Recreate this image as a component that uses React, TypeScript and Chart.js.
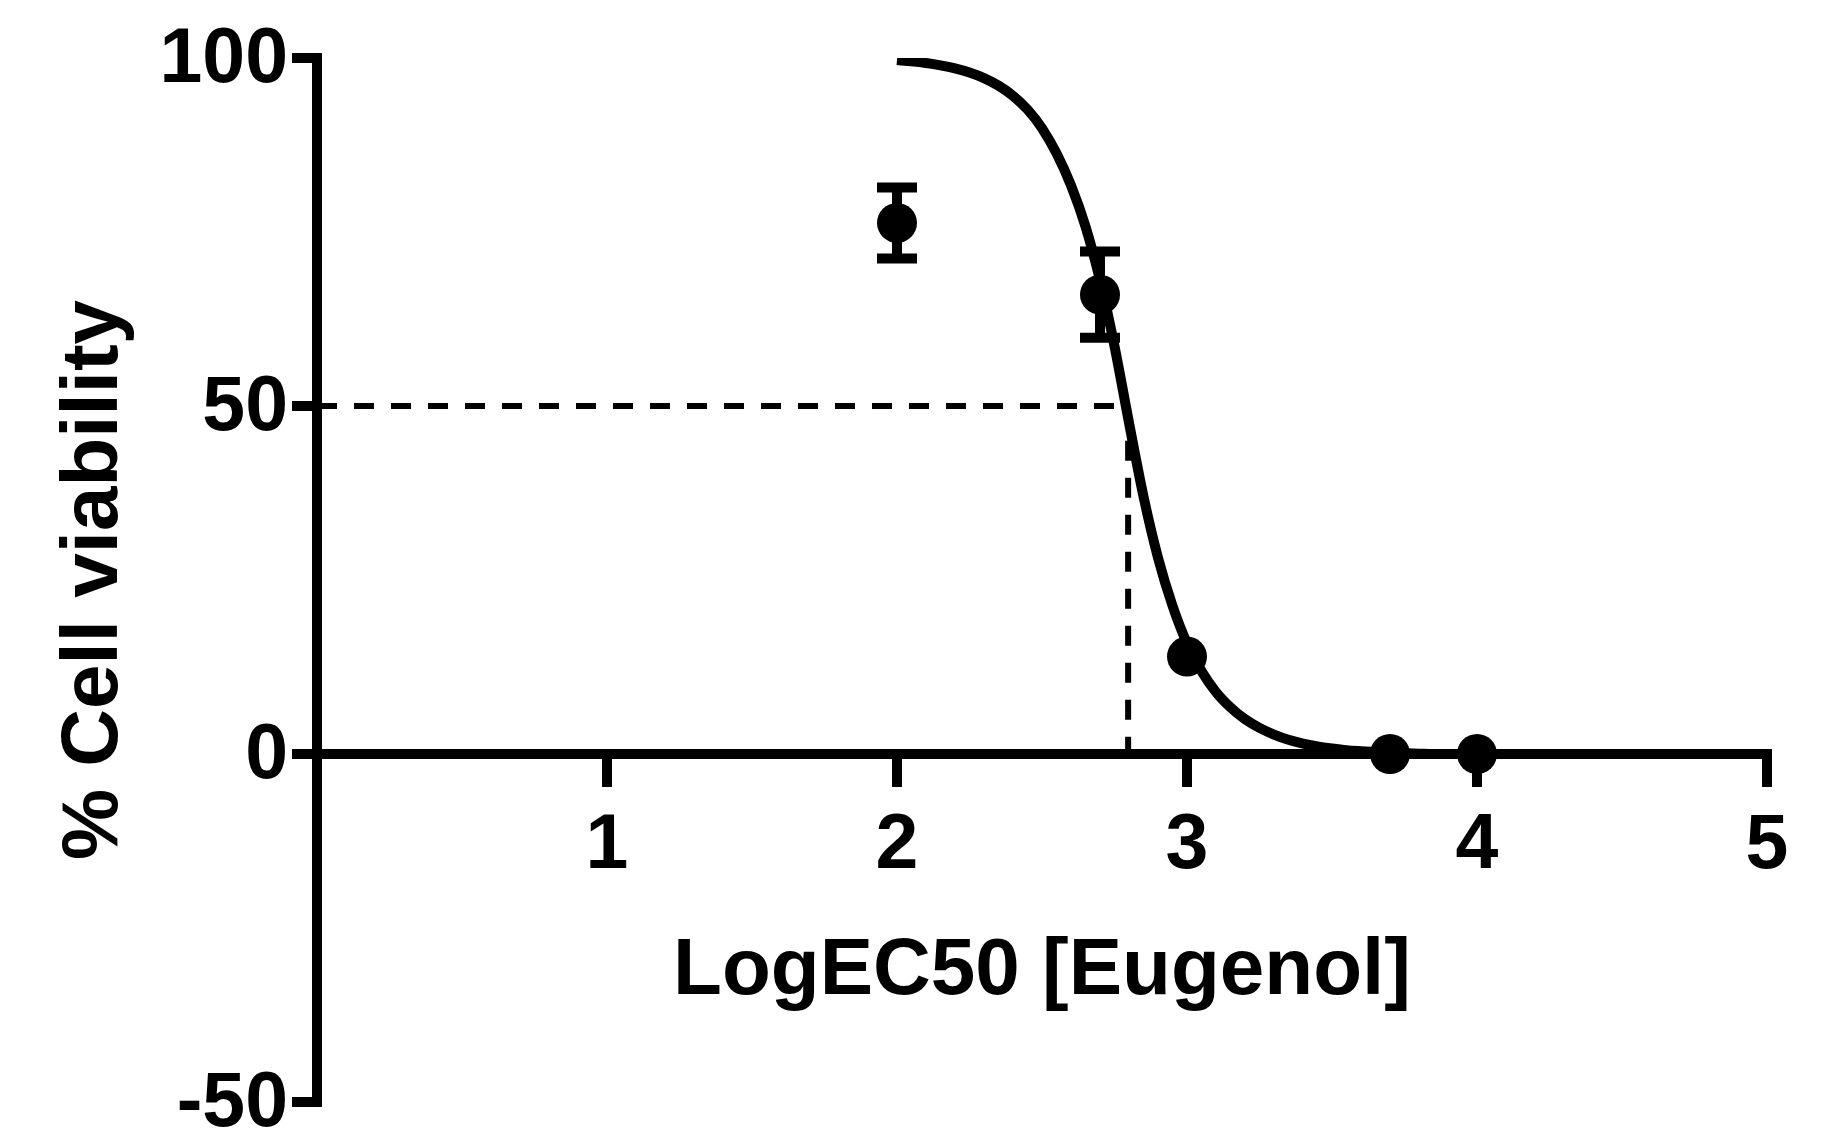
import React, { useEffect, useRef } from 'react';
import { Chart, registerables } from 'chart.js';

Chart.register(...registerables);

// Measured points (log concentration vs % viability, mean ± SEM)
const pointX = [2.0, 2.7, 3.0, 3.7, 4.0];
const pointY = [76.3, 66.0, 14.0, 0.0, 0.0];
const pointErr = [5.1, 6.2, 0, 0, 0];

// Fitted dose-response curve
const curveX = [2.0, 2.05, 2.1, 2.15, 2.2, 2.25, 2.3, 2.35, 2.4, 2.45, 2.5, 2.55, 2.6, 2.65, 2.7, 2.75, 2.8, 2.85, 2.9, 2.95, 3.0, 3.05, 3.1, 3.15, 3.2, 3.25, 3.3, 3.35, 3.4, 3.45, 3.5, 3.55, 3.6, 3.65, 3.7, 3.75, 3.8, 3.85, 4.0, 5.0];
const curveY = [99.7, 99.52, 99.28, 98.95, 98.51, 97.91, 97.11, 96.03, 94.57, 92.6, 89.92, 86.3, 81.7, 75.8, 68.1, 58.6, 47.6, 37.0, 28.2, 21.3, 15.9, 11.9, 8.9, 6.7, 5.0, 3.75, 2.8, 2.05, 1.5, 1.1, 0.8, 0.55, 0.4, 0.28, 0.18, 0.1, 0.05, 0.0, 0.0, 0.0];

// Dashed EC50 guide lines
const guide50X = [0, 2.78];
const guide50Y = [50, 50];
const guideVX = [2.797, 2.797];
const guideVY = [45, 0];
const guide0X = [0, 2.797];
const guide0Y = [0, 0];

// Axes
const xTickValues = [0, 1, 2, 3, 4, 5];
const xTickLabels = ['', '1', '2', '3', '4', '5'];
const yTickValues = [-50, 0, 50, 100];
const yTickLabels = ['-50', '0', '50', '100'];
const xTitle = 'LogEC50 [Eugenol]';
const yTitle = '% Cell viability';

const FAMILY = '"Liberation Sans", Arial, Helvetica, sans-serif';

const toXY = (xs: number[], ys: number[]) => xs.map((x, i) => ({ x, y: ys[i] }));

const errorBarPlugin = {
  id: 'errorBars',
  afterDatasetsDraw(chart: any) {
    const { ctx } = chart;
    const xs = chart.scales.x;
    const ys = chart.scales.y;
    ctx.save();
    ctx.strokeStyle = '#000';
    ctx.lineWidth = 10;
    ctx.lineCap = 'butt';
    pointX.forEach((x, i) => {
      const e = pointErr[i];
      if (!e) return;
      const px = xs.getPixelForValue(x);
      const top = ys.getPixelForValue(pointY[i] + e);
      const bot = ys.getPixelForValue(pointY[i] - e);
      ctx.beginPath();
      ctx.moveTo(px, top);
      ctx.lineTo(px, bot);
      ctx.moveTo(px - 20, top);
      ctx.lineTo(px + 20, top);
      ctx.moveTo(px - 20, bot);
      ctx.lineTo(px + 20, bot);
      ctx.stroke();
    });
    ctx.restore();
  },
};

export default function App() {
  const ref = useRef<HTMLCanvasElement>(null);

  useEffect(() => {
    const tickFont = { family: FAMILY, weight: 'bold' as const, size: 77, lineHeight: 1 };
    const titleFont = { family: FAMILY, weight: 'bold' as const, size: 80, lineHeight: 1.2 };
    const dashed = {
      type: 'line' as const,
      borderColor: '#000',
      borderWidth: 6,
      borderDash: [20, 17],
      pointRadius: 0,
      fill: false,
      tension: 0,
    };
    const chart = new Chart(ref.current as HTMLCanvasElement, {
      type: 'line',
      data: {
        datasets: [
          { ...dashed, data: toXY(guide0X, guide0Y) },
          { ...dashed, data: toXY(guide50X, guide50Y) },
          { ...dashed, data: toXY(guideVX, guideVY) },
          {
            type: 'line',
            data: toXY(curveX, curveY),
            borderColor: '#000',
            borderWidth: 10,
            pointRadius: 0,
            fill: false,
            cubicInterpolationMode: 'monotone',
          },
          {
            type: 'line',
            data: toXY(pointX, pointY),
            showLine: false,
            pointRadius: 20,
            pointHoverRadius: 20,
            pointBackgroundColor: '#000',
            pointBorderWidth: 0,
            borderColor: '#000',
            backgroundColor: '#000',
          },
        ] as any,
      },
      options: {
        responsive: false,
        devicePixelRatio: 1,
        animation: false,
        layout: { padding: { top: 58, right: 61, bottom: 38, left: 0 } },
        plugins: { legend: { display: false }, tooltip: { enabled: false } },
        scales: {
          x: {
            type: 'linear',
            axis: 'x',
            min: 0,
            max: 5,
            position: { y: 0 } as any,
            afterBuildTicks: (s: any) => {
              s.ticks = xTickValues.map((v) => ({ value: v }));
            },
            afterFit: (s: any) => {
              s.height = 266;
              s.paddingLeft = 0;
              s.paddingRight = 0;
              s.paddingTop = 0;
              s.paddingBottom = 0;
            },
            grid: { drawOnChartArea: false, drawTicks: true, tickLength: 28, lineWidth: 10, color: '#000' },
            border: { display: true, width: 10, color: '#000' },
            ticks: {
              padding: 26,
              color: '#000',
              font: tickFont,
              maxRotation: 0,
              autoSkip: false,
              callback: (_v: any, i: number) => xTickLabels[i],
            },
            title: { display: true, text: xTitle, color: '#000', font: titleFont, padding: { top: 0, bottom: 0 } },
          },
          y: {
            type: 'linear',
            position: 'left',
            min: -50,
            max: 100,
            afterBuildTicks: (s: any) => {
              s.ticks = yTickValues.map((v) => ({ value: v }));
            },
            afterFit: (s: any) => {
              s.width = 317;
              s.paddingTop = 0;
              s.paddingBottom = 0;
              s.paddingLeft = 0;
              s.paddingRight = 0;
            },
            grid: { drawOnChartArea: false, drawTicks: true, tickLength: 25, lineWidth: 10, color: '#000' },
            border: { display: true, width: 10, color: '#000' },
            ticks: {
              padding: 4,
              color: '#000',
              font: tickFont,
              labelOffset: 3,
              callback: (_v: any, i: number) => yTickLabels[i],
            },
            title: { display: true, text: yTitle, color: '#000', font: titleFont, padding: { top: 47, bottom: 0 } },
          },
        },
      } as any,
      plugins: [errorBarPlugin],
    });
    return () => chart.destroy();
  }, []);

  return (
    <div style={{ position: 'absolute', left: 0, top: 0, width: 1828, height: 1140, background: '#fff' }}>
      <canvas ref={ref} width={1828} height={1140} style={{ display: 'block', width: 1828, height: 1140 }} />
    </div>
  );
}
